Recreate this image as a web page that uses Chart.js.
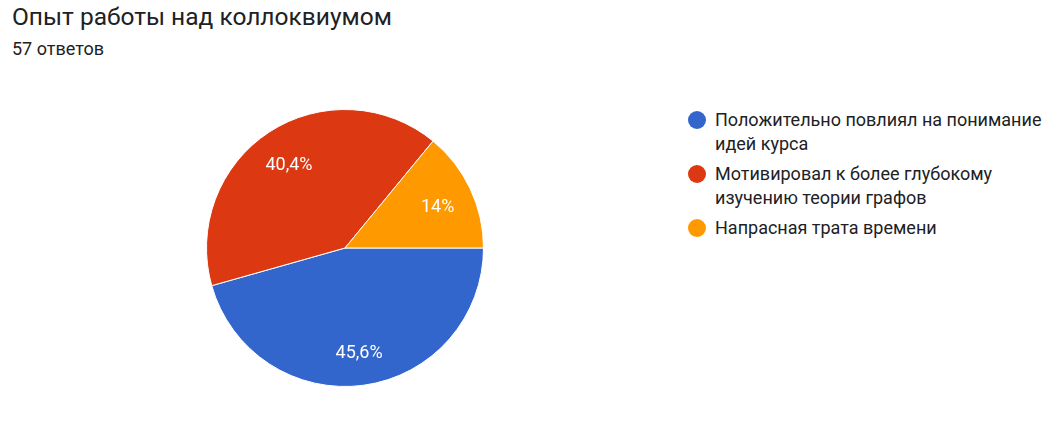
<!DOCTYPE html>
<html lang="ru">
<head>
    <meta charset="UTF-8">
    <title>Опыт работы над коллоквиумом</title>
    <script src="https://cdn.jsdelivr.net/npm/chart.js"></script>
    <style>
        body {
            margin: 0;
            width: 1053px;
            height: 438px;
            background: #fff;
            font-family: Roboto, Arial, sans-serif;
            color: #202124;
            position: relative;
            overflow: hidden;
        }
        h1 {
            position: absolute;
            left: 12px;
            top: 2px;
            margin: 0;
            font-size: 24.5px;
            font-weight: 400;
        }
        .count {
            position: absolute;
            left: 12px;
            top: 38px;
            font-size: 18px;
        }
        #pieBox {
            position: absolute;
            left: 206px;
            top: 109px;
            width: 278px;
            height: 278px;
        }
        #legend {
            position: absolute;
            left: 688px;
            top: 108px;
            width: 360px;
            font-size: 18px;
        }
        .item {
            display: flex;
            align-items: flex-start;
            margin-bottom: 6px;
            line-height: 24px;
        }
        .dot {
            width: 18px;
            height: 18px;
            border-radius: 50%;
            margin-top: 3px;
            margin-right: 9px;
            flex: none;
        }
    </style>
</head>
<body>
<h1>Опыт работы над коллоквиумом</h1>
<div class="count">57 ответов</div>
<div id="pieBox"><canvas id="pie"></canvas></div>
<div id="legend"></div>
<script>
    const labels = [
        'Положительно повлиял на понимание идей курса',
        'Мотивировал к более глубокому изучению теории графов',
        'Напрасная трата времени'
    ];
    const answers = [26, 23, 8];
    const colors = ['#3366cc', '#dc3912', '#ff9900'];

    const total = answers.reduce((a, b) => a + b, 0);

    function percentText(v) {
        let p = (v / total * 100).toFixed(1).replace('.', ',');
        if (p.endsWith(',0')) p = p.slice(0, -2);
        return p + '%';
    }

    // подписи процентов внутри секторов
    const sliceLabels = {
        id: 'sliceLabels',
        afterDatasetsDraw(chart) {
            const ctx = chart.ctx;
            const meta = chart.getDatasetMeta(0);
            ctx.save();
            ctx.fillStyle = '#fff';
            ctx.font = '18px Roboto, Arial, sans-serif';
            ctx.textAlign = 'center';
            ctx.textBaseline = 'alphabetic';
            meta.data.forEach((arc, i) => {
                const p = arc.getProps(['x', 'y', 'startAngle', 'endAngle', 'outerRadius'], true);
                const mid = (p.startAngle + p.endAngle) / 2;
                const r = p.outerRadius * 0.74;
                ctx.fillText(percentText(answers[i]), p.x + Math.cos(mid) * r, p.y + Math.sin(mid) * r + 8);
            });
            ctx.restore();
        }
    };

    new Chart(document.getElementById('pie'), {
        type: 'pie',
        data: {
            labels: labels,
            datasets: [{
                data: answers,
                backgroundColor: colors,
                borderColor: '#fff',
                borderWidth: 1
            }]
        },
        options: {
            responsive: true,
            maintainAspectRatio: false,
            animation: false,
            rotation: 90,
            plugins: {
                legend: { display: false },
                tooltip: { enabled: false }
            }
        },
        plugins: [sliceLabels]
    });

    const legendDiv = document.getElementById('legend');
    labels.forEach((text, i) => {
        legendDiv.innerHTML += `<div class="item"><span class="dot" style="background:${colors[i]}"></span><span>${text}</span></div>`;
    });
</script>
</body>
</html>
